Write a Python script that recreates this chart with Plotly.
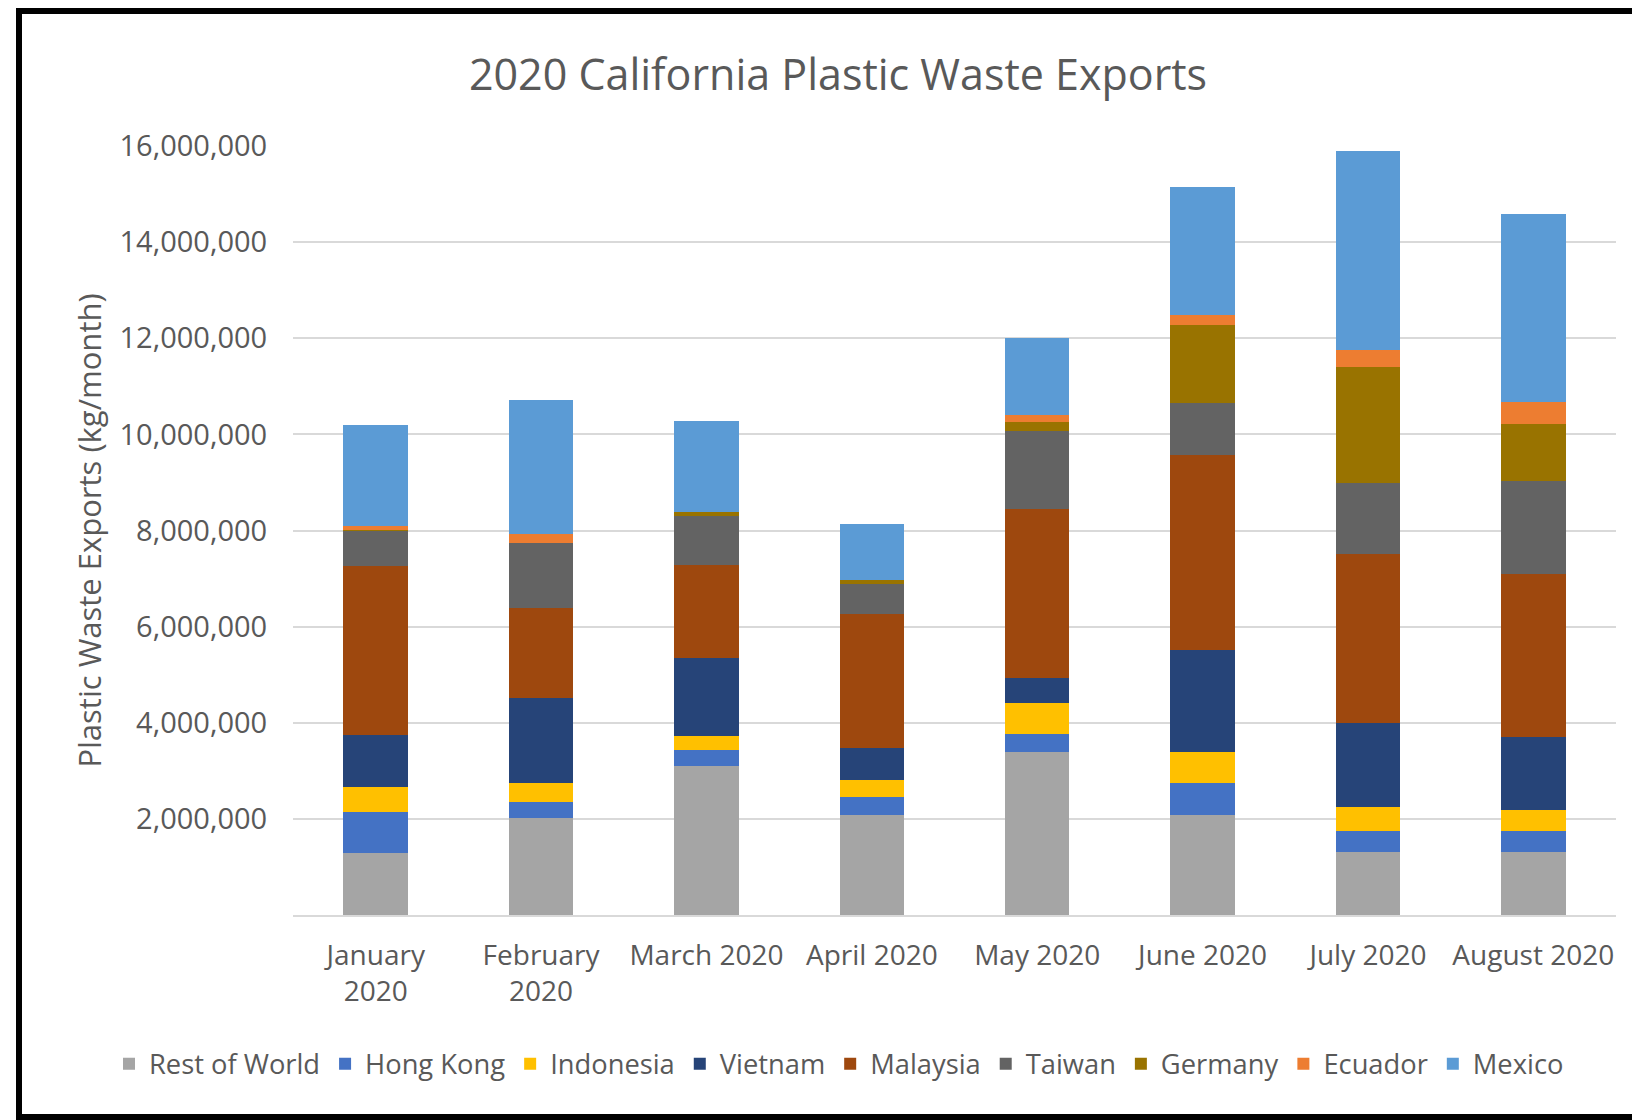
import plotly.graph_objects as go

months = ["January<br>2020", "February<br>2020", "March 2020", "April 2020",
          "May 2020", "June 2020", "July 2020", "August 2020"]

rest_of_world = [1300000, 2010000, 3090000, 2080000, 3390000, 2090000, 1320000, 1320000]
hong_kong     = [840000, 340000, 340000, 370000, 380000, 660000, 420000, 420000]
indonesia     = [530000, 390000, 290000, 360000, 640000, 650000, 500000, 440000]
vietnam       = [1070000, 1780000, 1620000, 660000, 530000, 2110000, 1760000, 1530000]
malaysia      = [3520000, 1860000, 1950000, 2800000, 3510000, 4070000, 3520000, 3390000]
taiwan        = [740000, 1360000, 1020000, 610000, 1610000, 1080000, 1470000, 1920000]
germany       = [20000, 0, 70000, 100000, 190000, 1610000, 2410000, 1190000]
ecuador       = [70000, 180000, 0, 0, 160000, 220000, 360000, 460000]
mexico        = [2110000, 2800000, 1890000, 1150000, 1590000, 2660000, 4130000, 3910000]

series_names = ["Rest of World", "Hong Kong", "Indonesia", "Vietnam", "Malaysia",
                "Taiwan", "Germany", "Ecuador", "Mexico"]
series_values = [rest_of_world, hong_kong, indonesia, vietnam, malaysia,
                 taiwan, germany, ecuador, mexico]
series_colors = ["#a5a5a5", "#4472c4", "#ffc000", "#264478", "#9e480e",
                 "#636363", "#997300", "#ed7d31", "#5b9bd5"]

y_ticks = [2000000, 4000000, 6000000, 8000000, 10000000, 12000000, 14000000, 16000000]
y_tick_labels = ["2,000,000", "4,000,000", "6,000,000", "8,000,000",
                 "10,000,000", "12,000,000", "14,000,000", "16,000,000"]

FONT = "Open Sans"
TXT = "#595959"

fig = go.Figure()
for name, vals, col in zip(series_names, series_values, series_colors):
    fig.add_trace(go.Bar(name=name, x=months, y=vals, marker=dict(color=col, line=dict(width=0))))

# page has an 8px body margin, so the figure is drawn 8px smaller and shifted
OFF = 8
W, H = 1640 - OFF, 1120 - OFF
L, R, T, B = 293 - OFF, 24, 146 - OFF, 1120 - 915
pw, ph = W - L - R, H - T - B

def px_x(x):
    return (x - OFF - L) / pw

def px_y(y):
    return (H - B - (y - OFF)) / ph

fig.update_layout(
    width=W, height=H,
    barmode="stack", bargap=0.61,
    paper_bgcolor="white", plot_bgcolor="white",
    margin=dict(l=L, r=R, t=T, b=B, autoexpand=False),
    font=dict(family=FONT, color=TXT, size=28),
    title=dict(text="2020 California Plastic Waste Exports", xref="container",
               x=(838 - OFF) / W, xanchor="center",
               yref="container", y=1 - (75 - OFF) / H, yanchor="middle",
               font=dict(size=43, color=TXT, family=FONT)),
    legend=dict(orientation="h", xref="paper", x=px_x(109), xanchor="left",
                yref="paper", y=px_y(1064), yanchor="middle",
                font=dict(size=27.3, color=TXT, family=FONT), traceorder="normal",
                itemclick=False, bgcolor="rgba(0,0,0,0)"),
    showlegend=True,
    xaxis=dict(showgrid=False, showline=True, linecolor="#d9d9d9", linewidth=2,
               ticks="outside", ticklen=14, tickcolor="rgba(0,0,0,0)",
               tickfont=dict(size=28, color=TXT), automargin=False),
    yaxis=dict(range=[0, 16000000], tickvals=y_ticks, ticktext=y_tick_labels,
               showgrid=True, gridcolor="#d9d9d9", gridwidth=2, zeroline=False,
               showline=False, ticks="outside", ticklen=19, tickcolor="rgba(0,0,0,0)",
               tickfont=dict(size=29, color=TXT), automargin=False,
               title=dict(text="Plastic Waste Exports (kg/month)", standoff=8,
                          font=dict(size=31, color=TXT))),
    shapes=[dict(type="rect", xref="paper", yref="paper",
                 x0=px_x(19), x1=px_x(1680), y0=px_y(1117), y1=px_y(11),
                 line=dict(color="black", width=6), fillcolor="rgba(0,0,0,0)", layer="above")],
)

fig.write_html("out.html")
